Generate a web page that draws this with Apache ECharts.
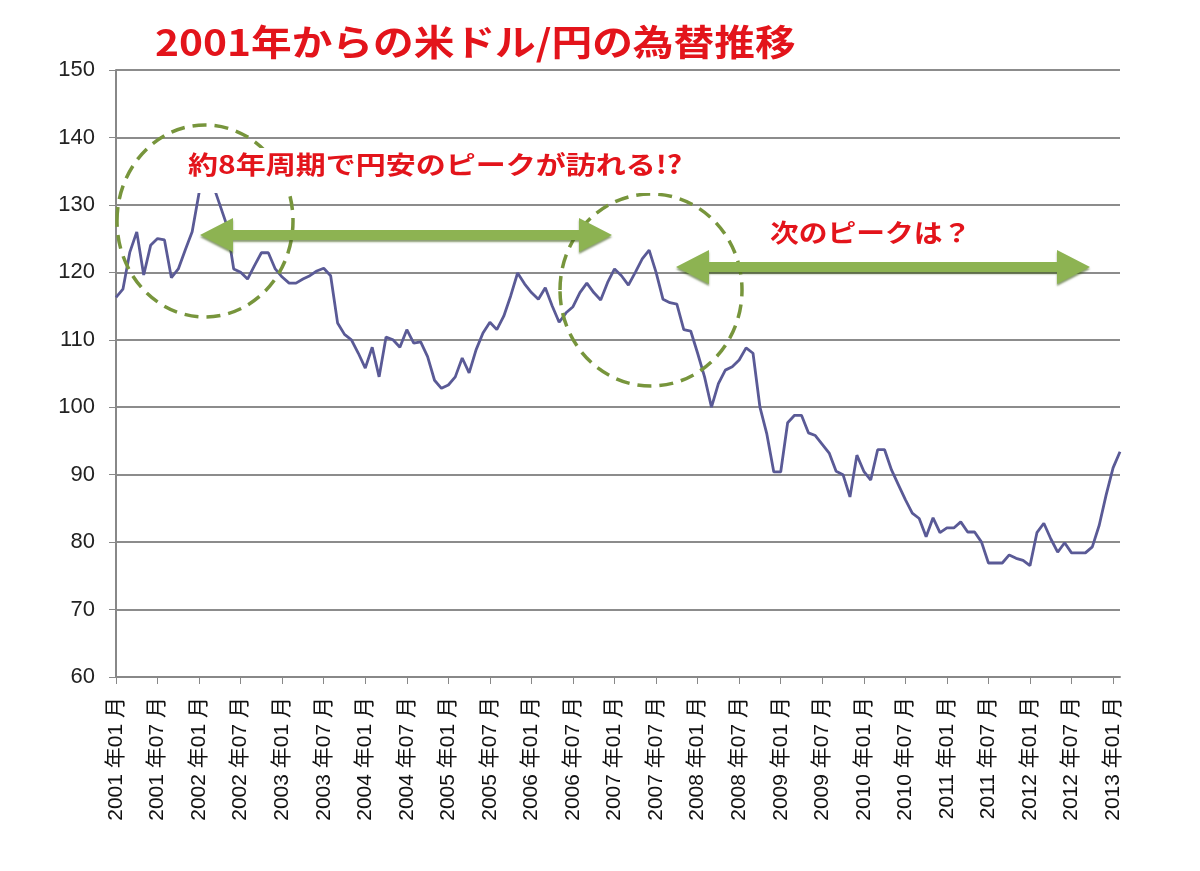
<!DOCTYPE html>
<html>
<head>
<meta charset="utf-8">
<script src="https://cdn.jsdelivr.net/npm/echarts@6/dist/echarts.min.js"></script>
<style>
  html, body { margin: 0; padding: 0; background: #fff; }
  #chart { width: 1200px; height: 871px; }
</style>
</head>
<body>
<div id="chart"></div>
<script>
// 月次の米ドル/円レート (2001年01月 〜 2013年02月)
const startYear = 2001;
const monthCount = 146;
const months = [];
for (let i = 0; i < monthCount; i++) {
  const y = startYear + Math.floor(i / 12);
  const m = String(i % 12 + 1).padStart(2, '0');
  months.push(y + ' 年' + m + ' 月');
}

const usdJpy = [
  116.3, 117.5, 123.0, 126.0, 119.6, 124.0, 125.0, 124.8, 119.2, 120.5, 123.3, 126.0,
  131.8, 134.5, 133.0, 130.0, 127.0, 120.5, 120.0, 119.0, 121.0, 122.9, 122.9, 120.5,
  119.3, 118.4, 118.4, 119.0, 119.5, 120.2, 120.6, 119.5, 112.5, 110.8, 110.0, 108.0,
  105.8, 108.9, 104.5, 110.4, 110.0, 108.9, 111.5, 109.5, 109.7, 107.5, 104.0, 102.8,
  103.3, 104.5, 107.3, 105.1, 108.5, 111.0, 112.6, 111.5, 113.5, 116.5, 119.9, 118.3,
  117.0, 116.0, 117.7, 115.0, 112.6, 114.0, 114.9, 117.0, 118.4, 117.0, 115.9, 118.5,
  120.5, 119.5, 118.1, 120.0, 122.0, 123.3, 120.0, 116.0, 115.5, 115.3, 111.5, 111.3,
  108.0, 104.5, 100.0, 103.5, 105.5, 106.0, 107.0, 108.8, 108.0, 100.0, 96.0, 90.4,
  90.4, 97.7, 98.8, 98.8, 96.2, 95.8, 94.5, 93.2, 90.5, 90.0, 86.7, 92.9,
  90.5, 89.2, 93.7, 93.7, 90.7, 88.5, 86.3, 84.3, 83.5, 80.8, 83.6, 81.4,
  82.1, 82.1, 83.0, 81.5, 81.5, 80.0, 76.9, 76.9, 76.9, 78.1, 77.6, 77.3,
  76.5, 81.4, 82.8, 80.5, 78.5, 79.9, 78.4, 78.4, 78.4, 79.3, 82.5, 87.0,
  91.0, 93.4
];

const yTicks = [60, 70, 80, 90, 100, 110, 120, 130, 140, 150];

const red = '#e3141b';
const arrowGreen = '#8db352';
const circleGreen = '#77953c';

// 両矢印のポリゴン
function makeArrow(x1, x2, y) {
  const hw = 5, hh = 17, hl = 33;
  return [
    [x1, y], [x1 + hl, y - hh], [x1 + hl, y - hw], [x2 - hl, y - hw], [x2 - hl, y - hh],
    [x2, y], [x2 - hl, y + hh], [x2 - hl, y + hw], [x1 + hl, y + hw], [x1 + hl, y + hh]
  ];
}

const chart = echarts.init(document.getElementById('chart'));

const option = {
  backgroundColor: '#fff',
  animation: false,
  grid: {
    left: 116,
    right: 80,
    top: 70,
    bottom: 194
  },
  xAxis: {
    type: 'category',
    data: months,
    boundaryGap: false,
    axisLine: { lineStyle: { color: '#888', width: 2 } },
    axisTick: { interval: 5, length: 7, lineStyle: { color: '#888' } },
    axisLabel: {
      interval: 5,
      rotate: 90,
      margin: 20,
      color: '#111',
      fontSize: 21,
      fontFamily: 'Liberation Sans, Noto Sans CJK JP'
    }
  },
  yAxis: {
    type: 'value',
    min: yTicks[0],
    max: yTicks[yTicks.length - 1],
    interval: 10,
    axisLine: { show: true, lineStyle: { color: '#888', width: 2 } },
    axisTick: { show: true, length: 7, lineStyle: { color: '#888' } },
    axisLabel: {
      color: '#222',
      fontSize: 22,
      margin: 21,
      fontFamily: 'Liberation Sans'
    },
    splitLine: { lineStyle: { color: '#8c8c8c', width: 2 } }
  },
  series: [
    {
      type: 'line',
      data: usdJpy,
      symbol: 'none',
      lineStyle: { color: '#5a5a96', width: 2.8 }
    }
  ],
  graphic: [
    {
      type: 'text',
      x: 155,
      y: 24,
      scaleX: 1.13,
      style: {
        text: '2001年からの米ドル/円の為替推移',
        fill: red,
        font: 'bold 36px "Noto Sans CJK JP"',
        verticalAlign: 'top'
      },
      z: 11
    },
    {
      type: 'ellipse',
      shape: { cx: 205, cy: 221, rx: 88, ry: 96 },
      style: { fill: null, stroke: circleGreen, lineWidth: 3.5, lineDash: [14, 8] },
      z: 10
    },
    {
      type: 'ellipse',
      shape: { cx: 651, cy: 290, rx: 91, ry: 96 },
      style: { fill: null, stroke: circleGreen, lineWidth: 3.5, lineDash: [14, 8] },
      z: 10
    },
    {
      // 白地の注記ボックス (ピークの一部が隠れる)
      type: 'rect',
      shape: { x: 186, y: 148, width: 505, height: 45 },
      style: { fill: '#fff' },
      z: 10
    },
    {
      type: 'text',
      x: 188,
      y: 152,
      scaleX: 1.2,
      style: {
        text: '約8年周期で円安のピークが訪れる!?',
        fill: red,
        font: 'bold 25px "Noto Sans CJK JP"',
        verticalAlign: 'top'
      },
      z: 11
    },
    {
      type: 'polygon',
      shape: { points: makeArrow(200, 612, 235) },
      style: { fill: arrowGreen, shadowColor: 'rgba(60,90,20,0.6)', shadowOffsetY: 2, shadowBlur: 2 },
      z: 12
    },
    {
      type: 'polygon',
      shape: { points: makeArrow(676, 1090, 267) },
      style: { fill: arrowGreen, shadowColor: 'rgba(60,90,20,0.6)', shadowOffsetY: 2, shadowBlur: 2 },
      z: 12
    },
    {
      type: 'text',
      x: 770,
      y: 220,
      scaleX: 1.15,
      style: {
        text: '次のピークは？',
        fill: red,
        font: 'bold 25px "Noto Sans CJK JP"',
        verticalAlign: 'top'
      },
      z: 11
    }
  ]
};

chart.setOption(option);

window.addEventListener('resize', () => {
  chart.resize();
});
</script>
</body>
</html>
